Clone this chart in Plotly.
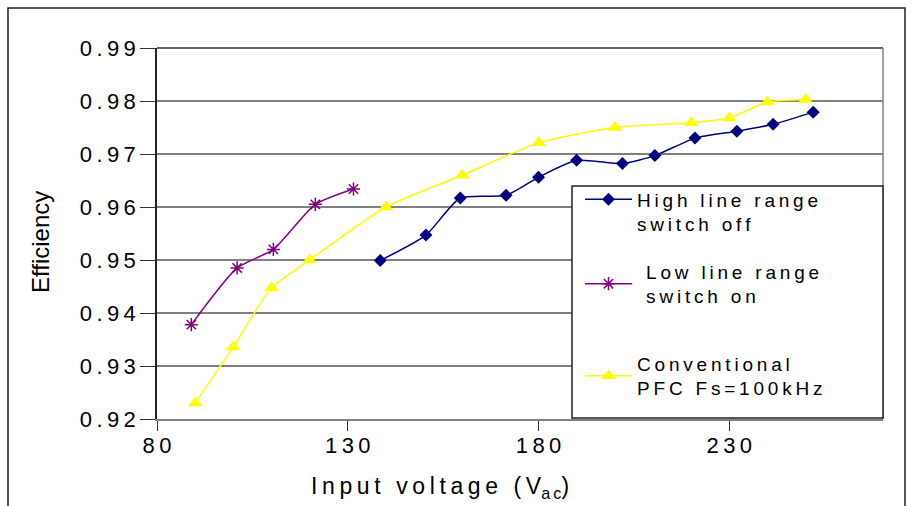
import plotly.graph_objects as go

# Efficiency versus input voltage for three PFC configurations
voltage_high = [138.5, 150.5, 159.5, 171.5, 180, 190, 202, 210.5, 221, 232, 241.5, 252]
eff_high = [0.9499, 0.9547, 0.9617, 0.9622, 0.9656, 0.9688, 0.9682, 0.9697, 0.9730, 0.9743, 0.9756, 0.9779]

voltage_low = [89, 101, 110.5, 121.5, 131.5]
eff_low = [0.9378, 0.9485, 0.9520, 0.9605, 0.9634]

voltage_conv = [90, 100, 110, 120, 140, 160, 180, 200, 220, 230, 240, 250]
eff_conv = [0.9230, 0.9336, 0.9447, 0.9500, 0.9600, 0.9660, 0.9721, 0.9750, 0.9759, 0.9768, 0.9798, 0.9803]

x_ticks = [80, 130, 180, 230]
y_ticks = [0.92, 0.93, 0.94, 0.95, 0.96, 0.97, 0.98, 0.99]

names = ["High line range<br>switch off", "\u00a0Low line range<br>\u00a0switch on", "Conventional<br>PFC Fs=100kHz"]

TS = "\u2009"  # thin space used for the wide letter spacing


def spaced(text):
    return "<br>".join(TS.join(line) for line in text.split("<br>"))


FONT = "Liberation Sans, Arial, sans-serif"

W, H = 912, 506
L, R, T, B = 157, 883, 48, 419  # plot area in pixels


def px(xp):
    return (xp - L) / (R - L)


def py(yp):
    return (B - yp) / (B - T)


fig = go.Figure()

fig.add_trace(go.Scatter(
    x=voltage_high, y=eff_high, name=spaced(names[0]), mode="lines+markers",
    line=dict(color="#000080", width=1.5, shape="spline", smoothing=0.6),
    marker=dict(symbol="diamond", size=10, color="#000080"),
    legend="legend", showlegend=True))
fig.add_trace(go.Scatter(
    x=voltage_low, y=eff_low, name=spaced(names[1]), mode="lines+markers",
    line=dict(color="#800080", width=1.5, shape="spline", smoothing=0.6),
    marker=dict(symbol="asterisk-open", size=11, color="#800080", line=dict(color="#800080", width=1.5)),
    legend="legend2", showlegend=True))
fig.add_trace(go.Scatter(
    x=voltage_conv, y=eff_conv, name=spaced(names[2]), mode="lines+markers",
    line=dict(color="#FFFF00", width=1.5, shape="spline", smoothing=0.6),
    marker=dict(symbol="triangle-up", size=13, color="#FFFF00"),
    legend="legend3", showlegend=True))

legend_common = dict(
    xanchor="left", yanchor="middle", bgcolor="rgba(0,0,0,0)", borderwidth=0,
    font=dict(family=FONT, size=19, color="black"), itemwidth=47,
)

fig.update_layout(
    width=W, height=H,
    showlegend=True,
    margin=dict(l=L, r=W - R, t=T, b=H - B),
    paper_bgcolor="white", plot_bgcolor="white",
    xaxis=dict(
        range=[80, 80 + (R - L) / 3.815], tickmode="array", tickvals=x_ticks,
        ticktext=[spaced(str(v)) for v in x_ticks],
        ticks="outside", ticklen=10, tickcolor="#333", tickwidth=1,
        ticklabelstandoff=-4,
        tickfont=dict(family=FONT, size=22, color="black"),
        showgrid=False, zeroline=False,
        showline=True, linecolor="#808080", linewidth=1.5, mirror=False,
    ),
    yaxis=dict(
        range=[0.92, 0.99], tickmode="array", tickvals=y_ticks,
        ticktext=[spaced(f"{v:.2f}") for v in y_ticks],
        ticks="outside", ticklen=15, tickcolor="#333", tickwidth=1,
        tickfont=dict(family=FONT, size=22, color="black"),
        showgrid=True, gridcolor="#808080", gridwidth=1.5,
        zeroline=False,
        showline=True, linecolor="#222", linewidth=1.5,
    ),
    legend=dict(x=px(580), y=py(212), valign="top", **legend_common),
    legend2=dict(x=px(580), y=py(284), valign="middle", **legend_common),
    legend3=dict(x=px(580), y=py(376), valign="middle", **legend_common),
    annotations=[
        dict(text=spaced("Input voltage (V") + "<sub>" + spaced("ac") + "</sub>)",
             xref="paper", yref="paper", x=px(440), y=py(487), xanchor="center", yanchor="middle",
             showarrow=False, font=dict(family=FONT, size=23, color="black")),
        dict(text="Efficiency", textangle=-90,
             xref="paper", yref="paper", x=px(40), y=py(242), xanchor="center", yanchor="middle",
             showarrow=False, font=dict(family=FONT, size=24, color="black")),
    ],
    shapes=[
        # top and right borders of the plot area
        dict(type="line", xref="paper", yref="paper", x0=0, x1=1, y0=1, y1=1,
             line=dict(color="#333", width=1.5), layer="above"),
        dict(type="line", xref="paper", yref="paper", x0=1, x1=1, y0=0, y1=1,
             line=dict(color="#808080", width=1.5), layer="above"),
        # legend box
        dict(type="rect", xref="paper", yref="paper", x0=px(572), x1=px(883), y0=py(418), y1=py(186),
             fillcolor="white", line=dict(color="#222", width=1.5), layer="above"),
        # outer chart frame
        dict(type="rect", xref="paper", yref="paper", x0=px(8), x1=px(905), y0=py(530), y1=py(8),
             fillcolor="rgba(0,0,0,0)", line=dict(color="#222", width=1.5), layer="above"),
    ],
)

fig.write_html("out.html")
